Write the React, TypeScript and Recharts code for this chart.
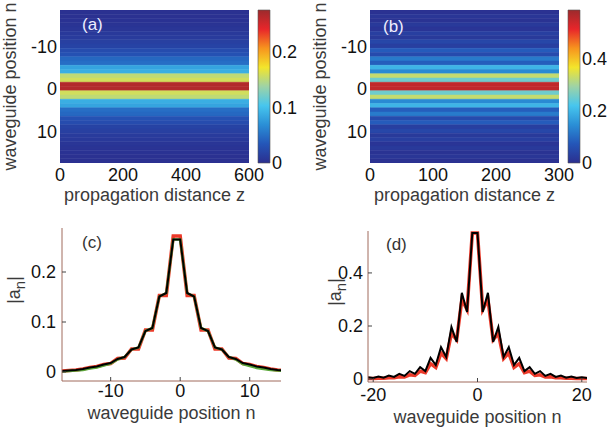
import React from 'react';
import { ComposedChart, Line, XAxis, YAxis, ReferenceArea, Label } from 'recharts';

const FONT = '"Liberation Sans", Arial, Helvetica, sans-serif';
const FRAME = '#a06a5c';
const TICKC = '#444';

// ---- Panel (a)/(c): waveguide positions and |a_n| (power 1 case)
const posC = [-18, -17, -16, -15, -14, -13, -12, -11, -10, -9, -8, -7, -6, -5, -4, -3, -2, -1, 0, 1, 2, 3, 4, 5, 6, 7, 8, 9, 10, 11, 12, 13, 14, 15, 16, 17];
const ampBlackC = [0.002, 0.002, 0.003, 0.004, 0.006, 0.009, 0.011, 0.015, 0.018, 0.026, 0.03, 0.045, 0.049, 0.082, 0.088, 0.151, 0.158, 0.265, 0.265, 0.158, 0.151, 0.088, 0.082, 0.049, 0.045, 0.03, 0.026, 0.018, 0.015, 0.011, 0.009, 0.006, 0.004, 0.003, 0.002, 0.002];
const ampRedC = [0.002, 0.002, 0.003, 0.004, 0.006, 0.009, 0.011, 0.015, 0.017, 0.027, 0.028, 0.046, 0.046, 0.084, 0.084, 0.153, 0.153, 0.272, 0.272, 0.153, 0.153, 0.084, 0.084, 0.046, 0.046, 0.028, 0.027, 0.017, 0.015, 0.011, 0.009, 0.006, 0.004, 0.003, 0.002, 0.002];
const ampGreenC = [0.001, 0.001, 0.002, 0.003, 0.004, 0.007, 0.009, 0.013, 0.017, 0.025, 0.03, 0.045, 0.049, 0.082, 0.088, 0.151, 0.158, 0.265, 0.265, 0.158, 0.151, 0.088, 0.082, 0.049, 0.045, 0.03, 0.025, 0.016, 0.012, 0.008, 0.006, 0.004, 0.003, 0.002, 0.001, 0.001];

// ---- Panel (b)/(d): waveguide positions and |a_n| (power 2 case)
const posD = [-21, -20, -19, -18, -17, -16, -15, -14, -13, -12, -11, -10, -9, -8, -7, -6, -5, -4, -3, -2, -1, 0, 1, 2, 3, 4, 5, 6, 7, 8, 9, 10, 11, 12, 13, 14, 15, 16, 17, 18, 19, 20, 21];
const ampBlackD = [0.007, 0.004, 0.01, 0.005, 0.013, 0.008, 0.02, 0.012, 0.03, 0.02, 0.045, 0.03, 0.08, 0.053, 0.12, 0.083, 0.196, 0.14, 0.325, 0.253, 0.55, 0.55, 0.253, 0.325, 0.14, 0.196, 0.083, 0.12, 0.053, 0.08, 0.03, 0.045, 0.02, 0.03, 0.012, 0.02, 0.008, 0.013, 0.005, 0.01, 0.004, 0.007, 0.004];
const ampRedD = [0.002, 0.002, 0.003, 0.003, 0.005, 0.005, 0.009, 0.008, 0.016, 0.014, 0.03, 0.024, 0.058, 0.044, 0.098, 0.077, 0.172, 0.148, 0.3, 0.262, 0.55, 0.55, 0.262, 0.3, 0.148, 0.172, 0.077, 0.098, 0.044, 0.058, 0.024, 0.03, 0.014, 0.016, 0.008, 0.009, 0.005, 0.005, 0.003, 0.003, 0.002, 0.002, 0.002];

// ---- Axis ticks
const ticksZA = [0, 200, 400, 600];
const ticksZB = [0, 100, 200, 300];
const ticksRows = [-10, 0, 10];
const ticksBarA = [0, 0.1, 0.2];
const ticksBarB = [0, 0.2, 0.4];
const ticksNC = [-10, 0, 10];
const ticksAmpC = [0, 0.1, 0.2];
const ticksND = [-20, 0, 20];
const ticksAmpD = [0, 0.2, 0.4];

// jet-like colormap (muted, as printed)
const JET: [number, string][] = [
  [0.0, '#2b2f8f'],
  [0.125, '#2456b8'],
  [0.25, '#2a8fd6'],
  [0.375, '#47c6ee'],
  [0.5, '#9ed3a6'],
  [0.625, '#f3e52b'],
  [0.75, '#f7941e'],
  [0.875, '#e8262a'],
  [1.0, '#9c2a2c'],
];

function hexToRgb(h: string) {
  return [parseInt(h.slice(1, 3), 16), parseInt(h.slice(3, 5), 16), parseInt(h.slice(5, 7), 16)];
}
function jet(t: number) {
  const u = Math.max(0, Math.min(1, t));
  for (let i = 0; i < JET.length - 1; i++) {
    const [t0, c0] = JET[i];
    const [t1, c1] = JET[i + 1];
    if (u <= t1) {
      const f = (u - t0) / (t1 - t0);
      const a = hexToRgb(c0);
      const b = hexToRgb(c1);
      const r = a.map((v, k) => Math.round(v + (b[k] - v) * f));
      return `rgb(${r[0]},${r[1]},${r[2]})`;
    }
  }
  return JET[JET.length - 1][1];
}

const tickStyle = { fill: '#111', fontSize: 18, fontFamily: FONT };
const labelStyle = { fill: '#3a3a3a', fontSize: 18, fontFamily: FONT };

function Heatmap(props: { id: string; left: number; zMax: number; zTicks: number[]; pos: number[]; amp: number[]; cmax: number }) {
  const { id, left, zMax, zTicks, pos, amp, cmax } = props;
  const rows = pos
    .map((n, i) => ({ n, v: amp[i], z: 0 }))
    .filter((r) => r.n >= -18 && r.n <= 17);
  return (
    <div style={{ position: 'absolute', left, top: 0 }}>
      <ComposedChart width={272} height={215} margin={{ top: 10, right: 23, bottom: 0, left: 0 }} data={rows}>
        <XAxis
          xAxisId={id}
          dataKey="z"
          type="number"
          domain={[0, zMax]}
          allowDataOverflow
          ticks={zTicks}
          interval={0}
          height={52}
          tickSize={0}
          tickMargin={5}
          tickLine={false}
          axisLine={false}
          tick={tickStyle}
        >
          <Label value="propagation distance z" position="insideBottom" offset={14} style={labelStyle} />
        </XAxis>
        <YAxis
          yAxisId={id}
          dataKey="n"
          type="number"
          domain={[-18.5, 17.5]}
          reversed
          allowDataOverflow
          ticks={ticksRows}
          interval={0}
          width={60}
          tickSize={0}
          tickMargin={3}
          tickLine={false}
          axisLine={false}
          tick={tickStyle}
        >
          <Label
            value="waveguide position n"
            angle={-90}
            position="insideLeft"
            offset={10}
            style={{ ...labelStyle, textAnchor: 'middle' }}
          />
        </YAxis>
        {rows.map((r) => (
          <ReferenceArea
            key={r.n}
            xAxisId={id}
            yAxisId={id}
            x1={0}
            x2={zMax}
            y1={r.n - 0.5}
            y2={r.n + 0.5}
            fill={jet(r.v / cmax)}
            fillOpacity={1}
            stroke={jet(r.v / cmax)}
            strokeWidth={0.5}
            ifOverflow="hidden"
          />
        ))}
      </ComposedChart>
    </div>
  );
}

function ColorBar(props: { id: string; left: number; width: number; axisW: number; cmax: number; ticks: number[] }) {
  const { id, left, width, axisW, cmax, ticks } = props;
  const gid = 'grad' + id;
  const data = [
    { x: 0, y: 0 },
    { x: 1, y: cmax },
  ];
  return (
    <div style={{ position: 'absolute', left, top: 0 }}>
      <ComposedChart width={width} height={215} margin={{ top: 10, right: 0, bottom: 52, left: 8 }} data={data}>
        <defs>
          <linearGradient id={gid} x1="0" y1="1" x2="0" y2="0">
            {JET.map(([t, c]) => (
              <stop key={t} offset={`${t * 100}%`} stopColor={c} />
            ))}
          </linearGradient>
        </defs>
        <XAxis xAxisId={id} dataKey="x" type="number" domain={[0, 1]} allowDataOverflow hide />
        <YAxis
          yAxisId={id}
          dataKey="y"
          orientation="right"
          type="number"
          domain={[0, cmax]}
          allowDataOverflow
          ticks={ticks}
          interval={0}
          width={axisW}
          tickSize={0}
          tickMargin={2}
          tickLine={false}
          axisLine={false}
          tick={{ ...tickStyle, textAnchor: 'start' }}
        />
        <ReferenceArea
          xAxisId={id}
          yAxisId={id}
          x1={0}
          x2={1}
          y1={0}
          y2={cmax}
          fill={`url(#${gid})`}
          fillOpacity={1}
          stroke="#555"
          strokeWidth={0.6}
          ifOverflow="visible"
        />
      </ComposedChart>
    </div>
  );
}

function AmpLabel(props: any) {
  const cx = props.cx;
  const cy = props.cy;
  return (
    <text
      x={cx}
      y={cy}
      transform={`rotate(-90, ${cx}, ${cy})`}
      textAnchor="middle"
      dominantBaseline="central"
      style={{ fill: '#3a3a3a', fontSize: 18, fontFamily: FONT }}
    >
      |a
      <tspan dy={5} fontSize={15}>n</tspan>
      <tspan dy={-5}>|</tspan>
    </text>
  );
}

function Profile(props: {
  left: number;
  width: number;
  axisW: number;
  marginTop: number;
  plotH: number;
  xDomain: [number, number];
  xTicks: number[];
  yDomain: [number, number];
  yTicks: number[];
  pos: number[];
  black: number[];
  red: number[];
  green?: number[];
  yTickMargin: number;
  xTickMargin: number;
  xLabelOffset: number;
  ampCx: number;
  ampCy: number;
}) {
  const p = props;
  const data = p.pos.map((n, i) => ({ n, black: p.black[i], red: p.red[i], green: p.green ? p.green[i] : null }));
  const xAxisH = 219 - p.marginTop - p.plotH;
  const rightM = p.width - p.axisW - 219;
  return (
    <div style={{ position: 'absolute', left: p.left, top: 210 }}>
      <ComposedChart width={p.width} height={219} margin={{ top: p.marginTop, right: rightM, bottom: 0, left: 0 }} data={data}>
        <XAxis
          xAxisId="b"
          dataKey="n"
          type="number"
          domain={p.xDomain}
          allowDataOverflow
          ticks={p.xTicks}
          interval={0}
          height={xAxisH}
          tickSize={-4}
          tickMargin={p.xTickMargin}
          tickLine={{ stroke: TICKC }}
          axisLine={{ stroke: FRAME }}
          tick={tickStyle}
        >
          <Label value="waveguide position n" position="insideBottom" offset={p.xLabelOffset} style={labelStyle} />
        </XAxis>
        <XAxis
          xAxisId="t"
          dataKey="n"
          orientation="top"
          type="number"
          domain={p.xDomain}
          allowDataOverflow
          ticks={p.xTicks}
          interval={0}
          height={0}
          tickSize={-4}
          tickFormatter={() => ''}
          tickLine={{ stroke: TICKC }}
          axisLine={{ stroke: FRAME }}
        />
        <YAxis
          yAxisId="l"
          type="number"
          domain={p.yDomain}
          allowDataOverflow
          ticks={p.yTicks}
          interval={0}
          width={p.axisW}
          tickSize={-4}
          tickMargin={p.yTickMargin}
          tickLine={{ stroke: TICKC }}
          axisLine={{ stroke: FRAME }}
          tick={tickStyle}
        >
          <Label content={<AmpLabel cx={p.ampCx} cy={p.ampCy} />} />
        </YAxis>
        <YAxis
          yAxisId="r"
          orientation="right"
          type="number"
          domain={p.yDomain}
          allowDataOverflow
          ticks={p.yTicks}
          interval={0}
          width={0}
          tickSize={-4}
          tickFormatter={() => ''}
          tickLine={{ stroke: TICKC }}
          axisLine={{ stroke: FRAME }}
        />
        <Line xAxisId="b" yAxisId="l" dataKey="red" stroke="#ec3a2a" strokeWidth={3.5} dot={false} isAnimationActive={false} />
        {p.green ? (
          <Line xAxisId="b" yAxisId="l" dataKey="green" stroke="#5aa83a" strokeWidth={2.5} dot={false} isAnimationActive={false} />
        ) : null}
        <Line xAxisId="b" yAxisId="l" dataKey="black" stroke="#000" strokeWidth={2} dot={false} isAnimationActive={false} />
      </ComposedChart>
    </div>
  );
}

const letterStyle = (left: number, top: number, color: string): React.CSSProperties => ({
  position: 'absolute',
  left,
  top,
  fontSize: 17,
  lineHeight: '20px',
  fontFamily: FONT,
  color,
});

export default function App() {
  return (
    <div style={{ position: 'absolute', left: 0, top: 0, width: 609, height: 429, background: '#fff', overflow: 'hidden' }}>
      <Heatmap id="a" left={0} zMax={600} zTicks={ticksZA} pos={posC} amp={ampBlackC} cmax={0.275} />
      <ColorBar id="ca" left={250} width={58} axisW={38} cmax={0.275} ticks={ticksBarA} />
      <Heatmap id="b" left={310} zMax={300} zTicks={ticksZB} pos={posD} amp={ampBlackD} cmax={0.585} />
      <ColorBar id="cb" left={560} width={49} axisW={29} cmax={0.585} ticks={ticksBarB} />
      <Profile
        left={0}
        width={285}
        axisW={62}
        marginTop={18}
        plotH={153}
        xDomain={[-17, 14.5]}
        xTicks={ticksNC}
        yDomain={[-0.018, 0.288]}
        yTicks={ticksAmpC}
        pos={posC}
        black={ampBlackC}
        red={ampRedC}
        green={ampGreenC}
        yTickMargin={10}
        xTickMargin={7}
        xLabelOffset={10}
        ampCx={14}
        ampCy={80}
      />
      <Profile
        left={300}
        width={309}
        axisW={68}
        marginTop={21}
        plotH={151}
        xDomain={[-21, 21]}
        xTicks={ticksND}
        yDomain={[-0.011, 0.558]}
        yTicks={ticksAmpD}
        pos={posD}
        black={ampBlackD}
        red={ampRedD}
        yTickMargin={9}
        xTickMargin={10}
        xLabelOffset={6}
        ampCx={35}
        ampCy={82}
      />
      <div style={letterStyle(82, 15, '#eef')}>(a)</div>
      <div style={letterStyle(383, 17, '#eef')}>(b)</div>
      <div style={letterStyle(82, 233, '#333')}>(c)</div>
      <div style={letterStyle(386, 235, '#333')}>(d)</div>
    </div>
  );
}
